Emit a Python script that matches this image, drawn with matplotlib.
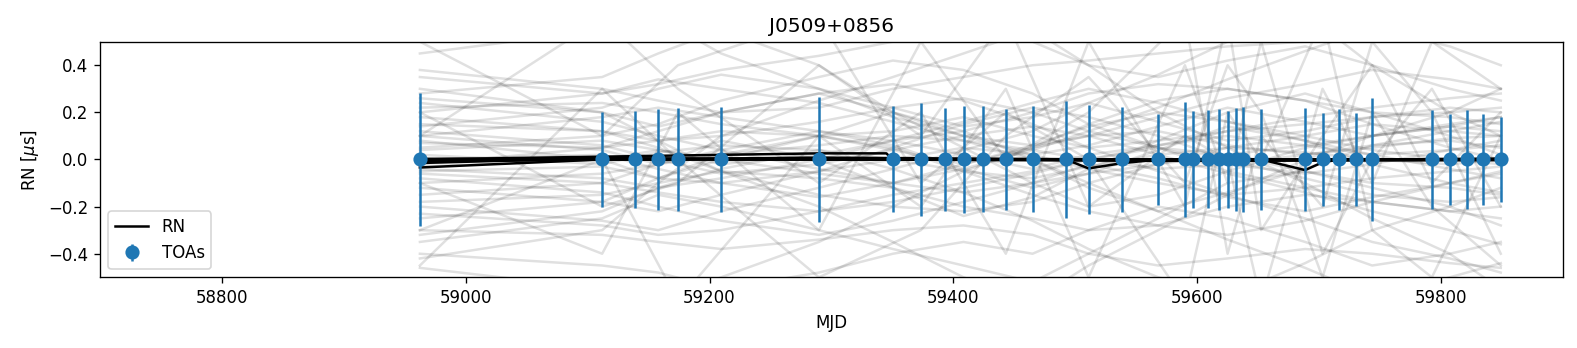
import matplotlib
matplotlib.use("Agg")
import matplotlib.pyplot as plt

# TOA epochs (MJD) and their errors (us), residuals sit at zero
toa_mjd = [58962.4, 59111.9, 59139.0, 59157.9, 59174.0, 59209.5, 59289.7,
           59350.4, 59373.3, 59393.3, 59408.3, 59424.4, 59443.0, 59464.9,
           59492.3, 59510.9, 59537.9, 59568.0, 59589.9, 59596.7, 59609.0,
           59617.7, 59624.9, 59631.4, 59637.7, 59652.4, 59688.5, 59702.8,
           59716.7, 59730.3, 59743.5, 59792.5, 59807.2, 59821.4, 59834.3,
           59849.0]
toa_err = [0.283, 0.200, 0.206, 0.213, 0.217, 0.221, 0.266,
           0.225, 0.238, 0.218, 0.229, 0.225, 0.213, 0.225,
           0.250, 0.230, 0.223, 0.195, 0.243, 0.205, 0.208,
           0.213, 0.204, 0.218, 0.222, 0.216, 0.219, 0.197,
           0.216, 0.197, 0.260, 0.212, 0.194, 0.209, 0.192,
           0.180]
toa_res = [0.0] * len(toa_mjd)

# RN reconstructions (black)
rn_mjd = [
    [58962.4, 59111.9, 59849.0],
    [58962.4, 59111.9, 59289.7, 59345.0, 59350.4, 59849.0],
    [58962.4, 59492.3, 59510.9, 59537.9, 59568.0, 59849.0],
    [58962.4, 59652.4, 59688.5, 59702.8, 59716.7, 59849.0],
    [58962.4, 59289.7, 59652.4, 59849.0],
    [58962.4, 59111.9, 59568.0, 59849.0],
]
rn_val = [
    [-0.034, 0.0, 0.0],
    [0.0, 0.012, 0.026, 0.026, 0.0, 0.0],
    [0.003, 0.0, -0.038, -0.016, 0.0, 0.0],
    [0.0, 0.0, -0.045, -0.012, 0.0, 0.0],
    [-0.008, 0.008, -0.004, 0.004],
    [-0.015, 0.006, -0.006, -0.003],
]

# gray RN realisations, sampled at a subset of TOA epochs
gray_mjd = [58962.4, 59111.9, 59157.9, 59209.5, 59289.7, 59350.4, 59408.3,
            59464.9, 59510.9, 59568.0, 59624.9, 59688.5, 59743.5, 59807.2,
            59849.0]
gray_rn = [
    [0.38, 0.30, 0.25, 0.20, 0.22, 0.30, 0.35, 0.40, 0.42, 0.45, 0.48, 0.50, 0.55, 0.60, 0.62],
    [0.22, 0.24, 0.20, 0.15, 0.10, 0.12, 0.18, 0.10, 0.05, 0.08, 0.12, 0.15, 0.18, 0.20, 0.22],
    [0.07, 0.05, 0.08, 0.12, 0.10, 0.04, -0.02, 0.05, 0.10, 0.12, 0.06, 0.02, 0.05, 0.09, 0.10],
    [-0.05, -0.03, -0.08, -0.10, -0.05, 0.0, 0.05, 0.02, -0.04, -0.10, -0.15, -0.12, -0.08, -0.05, -0.03],
    [-0.18, -0.15, -0.10, -0.05, -0.08, -0.12, -0.20, -0.25, -0.30, -0.28, -0.20, -0.15, -0.18, -0.22, -0.20],
    [-0.23, -0.28, -0.32, -0.30, -0.22, -0.15, -0.10, -0.05, 0.00, 0.05, 0.02, -0.05, -0.10, -0.12, -0.15],
    [-0.30, -0.32, -0.35, -0.38, -0.34, -0.30, -0.28, -0.32, -0.40, -0.45, -0.42, -0.38, -0.40, -0.44, -0.46],
    [-0.42, -0.30, -0.10, 0.10, 0.25, 0.35, 0.45, 0.55, 0.40, 0.20, 0.05, -0.10, -0.25, -0.40, -0.55],
    [-0.46, -0.55, -0.60, -0.50, -0.35, -0.20, -0.05, 0.05, 0.15, 0.25, 0.30, 0.25, 0.15, 0.05, 0.00],
    [0.15, 0.12, 0.05, -0.05, -0.15, -0.20, -0.22, -0.18, -0.10, -0.02, 0.05, 0.10, 0.15, 0.12, 0.10],
    [0.28, 0.35, 0.45, 0.55, 0.40, 0.20, 0.05, -0.10, -0.20, -0.15, -0.05, 0.05, 0.10, 0.20, 0.30],
    [0.10, 0.18, 0.22, 0.18, 0.12, 0.08, 0.12, 0.20, 0.28, 0.32, 0.30, 0.25, 0.20, 0.18, 0.15],
    [0.02, -0.02, 0.03, 0.06, 0.04, 0.00, -0.05, -0.08, -0.03, 0.02, 0.05, 0.03, 0.00, -0.02, 0.00],
    [-0.10, -0.06, -0.02, 0.02, 0.06, 0.10, 0.08, 0.04, 0.00, -0.04, -0.02, 0.02, 0.06, 0.08, 0.05],
    [0.30, 0.20, 0.08, -0.05, -0.20, -0.35, -0.50, -0.60, -0.45, -0.30, -0.15, 0.00, 0.10, 0.15, 0.18],
    [-0.35, -0.25, -0.15, -0.20, -0.30, -0.38, -0.45, -0.52, -0.40, -0.25, -0.10, -0.05, -0.12, -0.20, -0.28],
    [0.05, 0.10, 0.15, 0.25, 0.35, 0.42, 0.38, 0.28, 0.15, 0.05, -0.05, -0.12, -0.18, -0.22, -0.25],
    [-0.12, -0.18, -0.22, -0.15, -0.05, 0.05, 0.15, 0.22, 0.18, 0.10, 0.00, -0.08, -0.15, -0.18, -0.16],
    [0.18, 0.12, 0.08, 0.10, 0.16, 0.22, 0.26, 0.20, 0.12, 0.05, -0.02, -0.06, -0.02, 0.04, 0.08],
    [-0.02, 0.05, 0.12, 0.20, 0.28, 0.32, 0.25, 0.15, 0.05, -0.05, -0.15, -0.25, -0.35, -0.42, -0.48],
    [0.45, 0.55, 0.60, 0.45, 0.30, 0.18, 0.10, 0.06, 0.10, 0.18, 0.26, 0.32, 0.38, 0.34, 0.30],
    [-0.06, -0.10, -0.14, -0.18, -0.22, -0.18, -0.12, -0.06, 0.00, 0.06, 0.12, 0.18, 0.22, 0.26, 0.28],
    [0.12, 0.06, 0.00, -0.06, -0.02, 0.04, 0.10, 0.14, 0.10, 0.02, -0.06, -0.14, -0.22, -0.30, -0.36],
    [-0.25, -0.18, -0.08, 0.02, 0.10, 0.05, -0.05, -0.15, -0.22, -0.28, -0.32, -0.26, -0.18, -0.10, -0.05],
    [0.00, 0.02, -0.04, -0.10, -0.16, -0.10, -0.02, 0.06, 0.14, 0.20, 0.16, 0.08, 0.02, -0.04, -0.08],
    [0.35, 0.28, 0.32, 0.38, 0.44, 0.50, 0.58, 0.50, 0.40, 0.35, 0.42, 0.48, 0.40, 0.30, 0.25],
    [-0.40, -0.45, -0.48, -0.55, -0.48, -0.40, -0.35, -0.40, -0.30, -0.20, -0.25, -0.35, -0.45, -0.40, -0.35],
    [0.08, 0.00, -0.08, 0.00, 0.10, 0.20, 0.12, 0.00, -0.12, -0.22, -0.14, -0.04, 0.06, 0.12, 0.16],
    [-0.15, -0.10, -0.02, 0.08, 0.00, -0.12, -0.24, -0.16, -0.04, 0.08, 0.20, 0.28, 0.20, 0.10, 0.02],
    [0.24, 0.16, 0.10, 0.04, -0.04, -0.10, -0.04, 0.04, 0.12, 0.22, 0.34, 0.46, 0.56, 0.48, 0.40],
    [-0.08, -0.14, -0.20, -0.26, -0.32, -0.26, -0.18, -0.10, -0.02, -0.08, -0.16, -0.22, -0.16, -0.10, -0.06],
    [0.04, 0.08, 0.04, -0.02, 0.02, 0.08, 0.02, -0.04, 0.02, 0.06, 0.10, 0.06, 0.02, 0.04, 0.06],
    [-0.20, -0.26, -0.30, -0.22, -0.12, -0.04, 0.04, 0.12, 0.24, 0.36, 0.50, 0.62, 0.40, 0.20, 0.10],
    [0.20, 0.28, 0.34, 0.30, 0.24, 0.16, 0.08, 0.00, -0.10, -0.22, -0.34, -0.46, -0.58, -0.50, -0.44],
    [-0.03, 0.00, 0.04, 0.00, -0.06, -0.10, -0.14, -0.10, -0.06, -0.02, 0.02, 0.06, 0.10, 0.14, 0.12],
    [0.14, 0.22, 0.30, 0.36, 0.30, 0.22, 0.14, 0.18, 0.24, 0.16, 0.08, 0.12, 0.18, 0.22, 0.20],
    [-0.32, -0.22, -0.12, -0.04, 0.04, -0.04, -0.14, -0.26, -0.38, -0.50, -0.58, -0.44, -0.30, -0.20, -0.12],
    [0.10, 0.04, -0.02, 0.04, 0.12, 0.06, -0.04, -0.12, -0.06, 0.04, 0.14, 0.08, -0.02, -0.10, -0.14],
    [-0.04, -0.08, -0.12, -0.08, 0.00, 0.08, 0.16, 0.24, 0.30, 0.24, 0.16, 0.10, 0.04, 0.00, -0.02],
    [0.26, 0.20, 0.14, 0.20, 0.28, 0.20, 0.10, 0.02, 0.06, 0.14, 0.22, 0.16, 0.10, 0.14, 0.18],
]

# a few jagged realisations that swing across the panel
spiky_mjd = [58962.4, 59111.9, 59174.0, 59289.7, 59373.3, 59443.0, 59510.9,
             59589.9, 59624.9, 59652.4, 59702.8, 59743.5, 59792.5, 59849.0]
spiky_rn = [
    [0.10, 0.60, 0.30, -0.10, 0.20, -0.40, 0.50, -0.20, 0.60, -0.30, 0.10, 0.40, -0.10, 0.20],
    [-0.30, 0.00, -0.60, 0.10, -0.20, 0.30, -0.50, 0.40, -0.10, 0.50, -0.40, 0.00, 0.30, -0.20],
    [0.50, 0.10, 0.40, 0.60, -0.10, 0.20, 0.00, -0.60, 0.20, 0.00, 0.60, -0.30, -0.50, 0.10],
    [-0.10, -0.40, 0.20, -0.30, 0.50, 0.00, 0.20, 0.60, -0.40, 0.10, -0.20, 0.50, 0.20, -0.40],
    [0.20, -0.20, -0.10, 0.40, 0.10, 0.60, -0.20, 0.10, 0.00, -0.60, 0.30, -0.10, 0.50, 0.30],
    [-0.45, 0.30, 0.00, -0.50, -0.30, 0.10, 0.35, -0.10, 0.40, 0.20, -0.50, 0.20, -0.20, -0.45],
]

fig = plt.figure(figsize=(1577 / 120, 348 / 120), dpi=120)
ax = fig.add_axes([0.0634, 0.2032, 0.9277, 0.677])

# realisations first, so they sit behind everything
for g in gray_rn:
    ax.plot(gray_mjd, g, color="k", alpha=0.12, lw=1.5)
for g in spiky_rn:
    ax.plot(spiky_mjd, g, color="k", alpha=0.12, lw=1.5)

for i, (m, v) in enumerate(zip(rn_mjd, rn_val)):
    ax.plot(m, v, color="k", lw=1.5, label="RN" if i == 0 else None)

ax.errorbar(toa_mjd, toa_res, yerr=toa_err, fmt="o", color="C0",
            markersize=7.5, label="TOAs")

ax.set_xlim(58700, 59900)
ax.set_ylim(-0.5, 0.5)
ax.set_xlabel("MJD")
ax.set_ylabel(r"RN [$\mu$s]")
ax.set_title("J0509+0856")
ax.legend(loc="lower left")

fig.savefig("out.png", dpi=120)
